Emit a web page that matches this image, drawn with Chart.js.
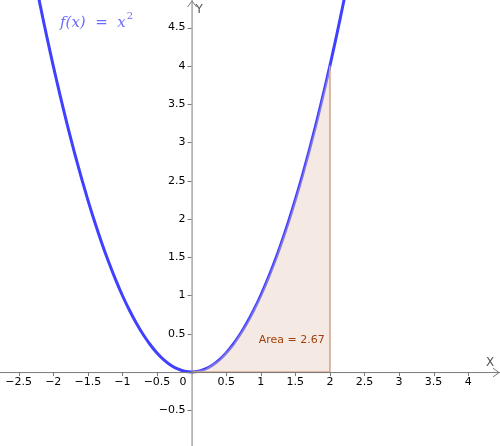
<!DOCTYPE html>
<html>
<head>
<meta charset="utf-8">
<script src="https://cdn.jsdelivr.net/npm/chart.js@4/dist/chart.umd.min.js"></script>
<style>body{margin:0;background:#fff}</style>
</head>
<body>
<canvas id="plot" width="500" height="446"></canvas>
<script>
// f(x) = x^2, sampled
const curveXs = [];
for (let i = -30; i <= 24; i++) curveXs.push(i / 10);
const areaXs = [0, 0.2, 0.4, 0.6, 0.8, 1, 1.2, 1.4, 1.6, 1.8, 2];
const xTicks = [-2.5, -2, -1.5, -1, -0.5, 0.5, 1, 1.5, 2, 2.5, 3, 3.5, 4];
const yTicks = [-0.5, 0.5, 1, 1.5, 2, 2.5, 3, 3.5, 4, 4.5];
const areaLabel = 'Area = 2.67';

const f = x => x * x;

const axesPlugin = {
  id: 'geoAxes',
  afterDatasetsDraw(chart) {
    const {ctx, scales: {x, y}} = chart;
    const x0 = x.getPixelForValue(0), y0 = y.getPixelForValue(0);
    const W = chart.width, H = chart.height;
    ctx.save();
    ctx.strokeStyle = '#7a7a7a';
    ctx.lineWidth = 1;
    ctx.beginPath();
    ctx.moveTo(0, y0 + 0.5); ctx.lineTo(W, y0 + 0.5);
    ctx.moveTo(W - 7, y0 - 4); ctx.lineTo(W - 1, y0 + 0.5); ctx.lineTo(W - 7, y0 + 5);
    ctx.moveTo(x0 + 0.5, 0); ctx.lineTo(x0 + 0.5, H);
    ctx.moveTo(x0 - 4, 7); ctx.lineTo(x0 + 0.5, 1); ctx.lineTo(x0 + 5, 7);
    xTicks.forEach(v => { const p = Math.round(x.getPixelForValue(v)) + 0.5; ctx.moveTo(p, y0); ctx.lineTo(p, y0 + 4); });
    yTicks.forEach(v => { const p = Math.round(y.getPixelForValue(v)) + 0.5; ctx.moveTo(x0 - 4, p); ctx.lineTo(x0, p); });
    ctx.stroke();

    ctx.fillStyle = '#000';
    ctx.font = '11px "DejaVu Sans", sans-serif';
    ctx.textAlign = 'center'; ctx.textBaseline = 'top';
    xTicks.forEach(v => ctx.fillText(String(v).replace('-', '\u2212'), x.getPixelForValue(v), y0 + 5));
    ctx.textAlign = 'right'; ctx.textBaseline = 'middle';
    yTicks.forEach(v => ctx.fillText(String(v).replace('-', '\u2212'), x0 - 6, y.getPixelForValue(v)));
    ctx.textAlign = 'right'; ctx.textBaseline = 'top';
    ctx.fillText('0', x0 - 5, y0 + 5);
    ctx.fillStyle = '#555';
    ctx.font = '12px "DejaVu Sans", sans-serif';
    ctx.textAlign = 'left'; ctx.textBaseline = 'top';
    ctx.fillText('X', W - 14, y0 - 15);
    ctx.fillText('Y', x0 + 4, 4);

    ctx.fillStyle = '#a0410d';
    ctx.font = '11px "DejaVu Sans", sans-serif';
    ctx.textAlign = 'left'; ctx.textBaseline = 'middle';
    ctx.fillText(areaLabel, x.getPixelForValue(0.97), y.getPixelForValue(0.42));

    ctx.fillStyle = '#6a6aff';
    ctx.font = 'italic 15px "DejaVu Serif", serif';
    ctx.textBaseline = 'alphabetic';
    const lx = 60, ly = 27;
    ctx.fillText('f(x)  =  x', lx, ly);
    const w = ctx.measureText('f(x)  =  x').width;
    ctx.font = '10px "DejaVu Serif", serif';
    ctx.fillText('2', lx + w + 1, ly - 8);
    ctx.restore();
  }
};

new Chart(document.getElementById('plot'), {
  type: 'scatter',
  data: {
    datasets: [
      {
        data: areaXs.map(v => ({x: v, y: f(v)})),
        showLine: true, pointRadius: 0, borderWidth: 0,
        backgroundColor: 'rgba(230,200,185,0.4)', fill: 'origin'
      },
      {
        data: [{x: 0, y: 0}, {x: 2, y: 0}, {x: 2, y: f(2)}],
        showLine: true, pointRadius: 0, borderWidth: 1.5,
        borderColor: '#cc9a7a', fill: false
      },
      {
        data: curveXs.map(v => ({x: v, y: f(v)})),
        showLine: true, pointRadius: 0, borderWidth: 3,
        borderColor: '#4040ff', fill: false, tension: 0.3
      }
    ]
  },
  options: {
    responsive: false,
    animation: false,
    layout: {padding: 0},
    plugins: {legend: {display: false}, tooltip: {enabled: false}},
    scales: {
      x: {type: 'linear', min: -2.77, max: 4.46, display: false},
      y: {type: 'linear', min: -0.966, max: 4.86, display: false}
    }
  },
  plugins: [axesPlugin]
});
</script>
</body>
</html>
